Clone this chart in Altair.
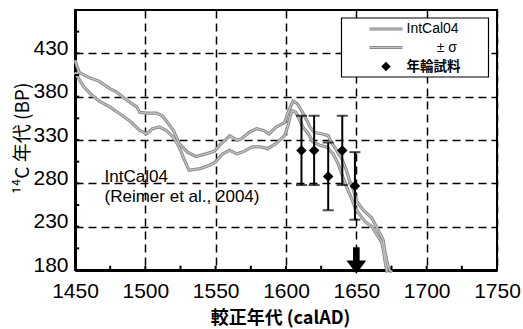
import altair as alt
import pandas as pd

# IntCal04 curve (+sigma / -sigma)
upper_years = [1450, 1453, 1460, 1467, 1475, 1479, 1486, 1494, 1496, 1501, 1508, 1512, 1515, 1520,
               1524, 1530, 1536, 1543, 1549, 1553, 1560, 1565, 1568, 1574, 1579, 1584, 1588, 1593,
               1599, 1602, 1605, 1608, 1611, 1615, 1617, 1620, 1626, 1630, 1632, 1636, 1640, 1643,
               1645, 1648, 1650, 1655, 1661, 1665, 1669, 1670.5, 1672.5, 1675]
upper_vals = [422, 408, 402, 398, 389, 386, 377, 368, 362, 361, 361, 358, 352, 341,
              326, 316, 311, 314, 317, 324, 335, 330, 331, 339, 343, 341, 337, 345,
              350, 364, 375, 372, 364, 352, 345, 339, 337, 335, 328, 318, 307, 295,
              284, 272, 260, 249, 240, 228, 215, 200, 184, 177]

lower_years = [1450, 1456, 1460, 1467, 1475, 1482, 1489, 1496, 1501, 1505, 1510, 1515, 1520, 1524,
               1527, 1531, 1539, 1546, 1550, 1555, 1560, 1565, 1569, 1576, 1582, 1587, 1593, 1599,
               1601.5, 1604, 1607, 1612, 1616, 1619, 1624, 1629, 1633.5, 1637, 1640.5, 1644, 1647,
               1649.5, 1652, 1656, 1661, 1665, 1668, 1669.5, 1671, 1672]
lower_vals = [408, 392, 385, 375, 368, 360, 352, 341, 337, 343, 345, 341, 333, 322,
              310, 295, 297, 301, 305, 314, 318, 314, 316, 322, 322, 320, 326, 335,
              347, 364, 362, 345, 337, 328, 324, 322, 314, 303, 287, 272, 261,
              250, 245, 236, 230, 220, 212, 200, 184, 177]

# tree-ring samples
sample_years = [1611, 1620, 1630, 1640, 1649]
sample_vals = [318, 318, 288, 318, 277]
sample_err = [40, 40, 39, 40, 39]

x_major = [1450, 1500, 1550, 1600, 1650, 1700, 1750]
y_major = [180, 230, 280, 330, 380, 430]
x_minor = [1475, 1500, 1525, 1550, 1575, 1600, 1625, 1650, 1675, 1700, 1725]
y_minor = [205, 230, 255, 280, 305, 330, 355, 380, 405, 430, 455]

arrow_year = [1650]
arrow_val = [191]

annot_text = ["IntCal04", "(Reimer et al., 2004)"]
annot_year = [1471, 1471]
annot_val = [281, 259]

legend_labels = ["IntCal04", "± σ", "年輪試料"]

LABEL_FONT = "Liberation Sans Narrow, Liberation Sans, Arial"
TEXT_FONT = "Liberation Sans, Arial"
CJK_FONT = "Noto Sans CJK JP"
GRAY_OUT = "#8c8c8c"
GRAY_IN = "#c4c4c4"

curve_df = pd.DataFrame({
    "year": upper_years + lower_years,
    "value": upper_vals + lower_vals,
    "series": ["upper"] * len(upper_years) + ["lower"] * len(lower_years),
})
samp_df = pd.DataFrame({
    "year": sample_years,
    "value": sample_vals,
    "lo": [v - e for v, e in zip(sample_vals, sample_err)],
    "hi": [v + e for v, e in zip(sample_vals, sample_err)],
})

xscale = alt.Scale(domain=[1450, 1750], nice=False, zero=False)
yscale = alt.Scale(domain=[180, 480], nice=False, zero=False)

x_axis = alt.Axis(values=x_major, format="d", grid=True, gridDash=[8, 5], gridColor="black",
                  gridWidth=1.5, gridOpacity=1, ticks=False, tickSize=0, domainWidth=3,
                  domainColor="black", labelFont=LABEL_FONT, labelFontSize=21, labelColor="black",
                  labelPadding=10, labelFlush=False, title="較正年代 (calAD)", titleFont=CJK_FONT,
                  titleFontSize=18, titleFontWeight="bold", titleColor="black", titleX=205,
                  titleY=48, titleBaseline="middle", titleAlign="center")
y_axis = alt.Axis(values=y_major, format="d", grid=True, gridDash=[8, 5], gridColor="black",
                  gridWidth=1.5, gridOpacity=1, ticks=False, tickSize=0, domainWidth=3,
                  domainColor="black", labelFont=LABEL_FONT, labelFontSize=21, labelColor="black",
                  labelPadding=7, labelOffset=-5, labelFlush=False, title="¹⁴C 年代 (BP)",
                  titleFont=CJK_FONT, titleFontSize=19, titleFontWeight="normal", titleColor="black",
                  titleAngle=270, titleX=-53, titleY=128, titleBaseline="middle",
                  titleAlign="center")

base = alt.Chart(curve_df)
curve_outer = base.mark_line(color=GRAY_OUT, strokeWidth=3.2).encode(
    x=alt.X("year:Q", scale=xscale, axis=x_axis),
    y=alt.Y("value:Q", scale=yscale, axis=y_axis),
    detail="series:N",
    order="year:Q",
)
curve_inner = base.mark_line(color=GRAY_IN, strokeWidth=1.2).encode(
    x="year:Q", y="value:Q", detail="series:N", order="year:Q")

# minor inward ticks
xt = alt.Chart(pd.DataFrame({"t": x_minor})).mark_rule(color="black", strokeWidth=2).encode(
    x="t:Q", y=alt.datum(180), y2=alt.datum(185))
yt = alt.Chart(pd.DataFrame({"t": y_minor})).mark_rule(color="black", strokeWidth=2).encode(
    y="t:Q", x=alt.datum(1450), x2=alt.datum(1453))

sb = alt.Chart(samp_df)
err = sb.mark_rule(color="black", strokeWidth=2).encode(x="year:Q", y="lo:Q", y2="hi:Q")
cap_hi = sb.mark_tick(color="black", thickness=2, size=11, orient="horizontal").encode(
    x="year:Q", y="hi:Q")
cap_lo = sb.mark_tick(color="black", thickness=2, size=11, orient="horizontal").encode(
    x="year:Q", y="lo:Q")
pts = sb.mark_point(shape="diamond", filled=True, color="black", size=110, opacity=1).encode(
    x="year:Q", y="value:Q")

arrow = alt.Chart(pd.DataFrame({"year": arrow_year, "value": arrow_val})).mark_point(
    shape="M -0.25 -1 L 0.25 -1 L 0.25 0 L 0.75 0 L 0 1 L -0.75 0 L -0.25 0 Z",
    filled=True, color="black", size=700, opacity=1).encode(x="year:Q", y="value:Q")

annot = alt.Chart(pd.DataFrame({"t": annot_text, "year": annot_year, "value": annot_val})).mark_text(
    align="left", baseline="alphabetic", font=TEXT_FONT, fontSize=17, color="black").encode(
    x="year:Q", y="value:Q", text="t:N")

one = pd.DataFrame({"a": [0]})
leg_box = alt.Chart(one).mark_rect(fill="white", stroke="black", strokeWidth=1.2).encode(
    x=alt.value(266.5), x2=alt.value(413.5), y=alt.value(8), y2=alt.value(67))
leg_l1o = alt.Chart(one).mark_rule(color=GRAY_OUT, strokeWidth=3).encode(
    x=alt.value(294.5), x2=alt.value(327.5), y=alt.value(19))
leg_l1i = alt.Chart(one).mark_rule(color=GRAY_IN, strokeWidth=1).encode(
    x=alt.value(294.5), x2=alt.value(327.5), y=alt.value(19))
leg_l2o = alt.Chart(one).mark_rule(color=GRAY_OUT, strokeWidth=3).encode(
    x=alt.value(294.5), x2=alt.value(327.5), y=alt.value(37.5))
leg_l2i = alt.Chart(one).mark_rule(color=GRAY_IN, strokeWidth=1).encode(
    x=alt.value(294.5), x2=alt.value(327.5), y=alt.value(37.5))
leg_pt = alt.Chart(one).mark_point(shape="diamond", filled=True, color="black", size=90,
                                   opacity=1).encode(x=alt.value(311), y=alt.value(56.5))
leg_t1 = alt.Chart(one).mark_text(align="left", baseline="middle", font=TEXT_FONT, fontSize=14,
                                  color="black", text=legend_labels[0]).encode(
    x=alt.value(331.5), y=alt.value(19))
leg_t2 = alt.Chart(one).mark_text(align="right", baseline="middle", font=TEXT_FONT, fontSize=14,
                                  color="black", text=legend_labels[1]).encode(
    x=alt.value(382), y=alt.value(37.5))
leg_t3 = alt.Chart(one).mark_text(align="left", baseline="middle", font=CJK_FONT, fontSize=13.5,
                                  fontWeight="bold", color="black", text=legend_labels[2]).encode(
    x=alt.value(331.5), y=alt.value(56.5))

chart = alt.layer(
    curve_outer, curve_inner, xt, yt, annot, err, cap_hi, cap_lo, pts, arrow,
    leg_box, leg_l1o, leg_l1i, leg_l2o, leg_l2i, leg_pt, leg_t1, leg_t2, leg_t3,
).properties(
    width=422, height=260,
    autosize=alt.AutoSizeParams(type="none"),
    padding={"left": 75, "top": 10, "right": 26, "bottom": 59},
    background="white",
).configure_view(stroke="black", strokeWidth=2)

chart.save("out.html", embed_options={"renderer": "svg", "actions": False})
